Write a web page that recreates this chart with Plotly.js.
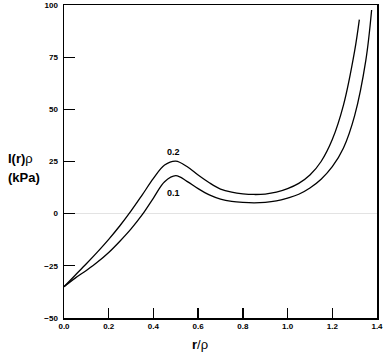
<!DOCTYPE html>
<html>
<head>
<meta charset="utf-8">
<script src="https://cdn.plot.ly/plotly-3.0.1.min.js"></script>
<style>
  html, body { margin: 0; padding: 0; background: #fff; }
  #chart { width: 391px; height: 361px; }
</style>
</head>
<body>
<div id="chart"></div>
<script>
// curve labelled 0.2 (upper)
const xUpper = [0.0, 0.05, 0.1, 0.15, 0.2, 0.25, 0.3, 0.35, 0.4, 0.45, 0.5, 0.55, 0.6, 0.65, 0.7, 0.75, 0.8, 0.85, 0.9, 0.95, 1.0, 1.05, 1.1, 1.15, 1.2, 1.25, 1.3, 1.321];
const yUpper = [-35, -29.5, -24, -18.3, -12.3, -5.8, 1.3, 9, 16.9, 23.3, 25.2, 22.6, 18.5, 14.8, 11.8, 10.3, 9.5, 9.2, 9.4, 10.3, 12, 14.5, 18.5, 25, 35.5, 52, 78, 93];

// curve labelled 0.1 (lower)
const xLower = [0.0, 0.05, 0.1, 0.15, 0.2, 0.25, 0.3, 0.35, 0.4, 0.45, 0.5, 0.55, 0.6, 0.65, 0.7, 0.75, 0.8, 0.85, 0.9, 0.95, 1.0, 1.05, 1.1, 1.15, 1.2, 1.25, 1.3, 1.35, 1.376];
const yLower = [-35, -30.9, -27.2, -23.2, -18.6, -13.2, -7.3, -0.5, 7.5, 15.3, 18.2, 15.5, 12, 9, 7, 5.9, 5.4, 5.2, 5.4, 6.1, 7.5, 9.3, 12.3, 16.5, 22.5, 31.5, 47, 73.5, 97.6];

const curveLabels = ['0.2', '0.1'];
const labelX = [0.49, 0.49];
const labelY = [29.5, 10];

const xTicks = [0.0, 0.2, 0.4, 0.6, 0.8, 1.0, 1.2, 1.4];
const yTicks = [-50, -25, 0, 25, 50, 75, 100];

const font = 'Liberation Sans, Arial, sans-serif';

const lineStyle = { color: '#000', width: 1.3, shape: 'spline', smoothing: 1 };

const traces = [
  { x: xUpper, y: yUpper, mode: 'lines', line: lineStyle, hoverinfo: 'skip' },
  { x: xLower, y: yLower, mode: 'lines', line: lineStyle, hoverinfo: 'skip' }
];

const annotations = curveLabels.map((t, i) => ({
  x: labelX[i], y: labelY[i], xref: 'x', yref: 'y',
  text: '<b>' + t + '</b>', showarrow: false,
  font: { family: font, size: 9, color: '#000' }
}));

// axis titles placed in pixels, converted to paper coords below
annotations.push({
  x: 5, y: 159, xref: 'paper', yref: 'paper', xanchor: 'left', yanchor: 'middle',
  text: '<b>I(r)</b>ρ', showarrow: false,
  font: { family: font, size: 13, color: '#000' }
});
annotations.push({
  x: 5, y: 177, xref: 'paper', yref: 'paper', xanchor: 'left', yanchor: 'middle',
  text: '<b>(kPa)</b>', showarrow: false,
  font: { family: font, size: 13, color: '#000' }
});
annotations.push({
  x: 200, y: 345, xref: 'paper', yref: 'paper', xanchor: 'center', yanchor: 'middle',
  text: '<b>r</b>/ρ', showarrow: false,
  font: { family: font, size: 13, color: '#000' }
});

const W = 391, H = 361, mL = 63.5, mR = 14, mT = 5, mB = 43;
annotations.forEach(a => {
  if (a.xref === 'paper') {
    a.x = (a.x - mL) / (W - mL - mR);
    a.y = 1 - (a.y - mT) / (H - mT - mB);
  }
});

const layout = {
  width: W, height: H,
  margin: { l: mL, r: mR, t: mT, b: mB },
  paper_bgcolor: '#fff', plot_bgcolor: '#fff',
  showlegend: false,
  font: { family: font, color: '#000' },
  xaxis: {
    range: [0, 1.4], tickvals: xTicks, tickformat: '.1f',
    ticks: 'inside', ticklen: 10, tickwidth: 1.3, tickcolor: '#000',
    showline: true, linecolor: '#000', linewidth: 1.5, mirror: true,
    showgrid: false, zeroline: false,
    tickfont: { family: font, size: 8, weight: 'bold', color: '#000' }
  },
  yaxis: {
    range: [-50, 100], tickvals: yTicks,
    ticks: 'inside', ticklen: 11, tickwidth: 1.3, tickcolor: '#000',
    showline: true, linecolor: '#000', linewidth: 1.5, mirror: true,
    showgrid: false, zeroline: true, zerolinecolor: '#e3e3e3', zerolinewidth: 1,
    ticklabelstandoff: 3,
    tickfont: { family: font, size: 8, weight: 'bold', color: '#000' }
  },
  annotations: annotations
};

Plotly.newPlot('chart', traces, layout, { displayModeBar: false, staticPlot: true });
</script>
</body>
</html>
